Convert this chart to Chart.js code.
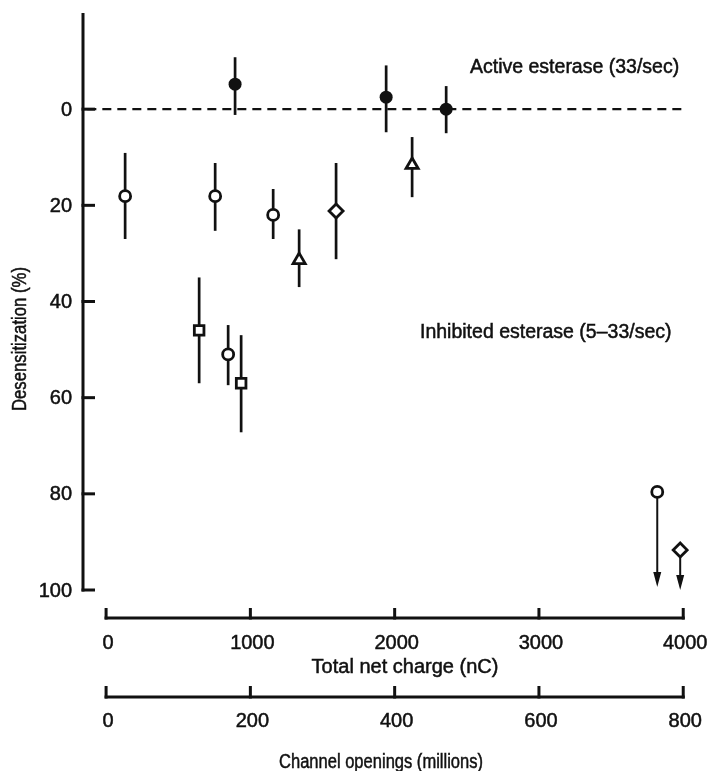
<!DOCTYPE html>
<html>
<head>
<meta charset="utf-8">
<script src="https://cdn.jsdelivr.net/npm/chart.js@4.4.1/dist/chart.umd.min.js"></script>
<style>
    html, body { margin: 0; padding: 0; background: #ffffff; }
    #wrap { width: 714px; height: 771px; position: relative; }
</style>
</head>
<body>
<div id="wrap"><canvas id="chart"></canvas></div>
<script>
// values: x in nC, y in % desensitization
const activeX = [894, 1941, 2357];
const activeY = [-5.2, -2.5, 0];
const activeLow = [-10.8, -9.1, -4.8];
const activeHigh = [1.2, 4.8, 5];

const circleX = [132, 756, 1158, 846, 3820];
const circleY = [18.1, 18.1, 22, 51, 79.6];
const circleLow = [9.1, 11.2, 16.6, 44.9, null];
const circleHigh = [27, 25.3, 27, 57.4, null];

const squareX = [645, 936];
const squareY = [46, 57];
const squareLow = [35, 47];
const squareHigh = [57, 67.2];

const triangleX = [1338, 2121];
const triangleY = [31.4, 11.6];
const triangleLow = [25, 5.8];
const triangleHigh = [37, 18.3];

const diamondX = [1594, 3979];
const diamondY = [21.2, 91.7];
const diamondLow = [11.2, null];
const diamondHigh = [31.2, null];

// points that only give a lower bound (arrow down)
const arrowX = [3820, 3979];
const arrowFrom = [79.6, 91.7];
const arrowTo = [99.4, 100];

const baselineX = [-130, 4010];
const baselineY = [0, 0];

const yTicks = [0, 20, 40, 60, 80, 100];
const chargeTicks = [0, 1000, 2000, 3000, 4000];
const channelTicks = [0, 200, 400, 600, 800];
const chargePerChannel = 4000 / 800;

const yTitle = 'Desensitization (%)';
const chargeTitle = 'Total net charge (nC)';
const channelTitle = 'Channel openings (millions)';
const activeLabel = 'Active esterase (33/sec)';
const inhibitedLabel = 'Inhibited esterase (5\u201333/sec)';

const FONT = '"Liberation Sans", Arial, Helvetica, sans-serif';
const INK = '#111111';

function toPoints(xs, ys, lows, highs) {
    return xs.map((x, i) => ({ x: x, y: ys[i], low: lows ? lows[i] : null, high: highs ? highs[i] : null }));
}

// printed figure text is a bit heavier than a plain canvas fill
function inkText(ctx, text, x, y) {
    ctx.fillText(text, x, y);
    ctx.strokeText(text, x, y);
}

// the original typeface is narrower than Arial: squeeze to the printed width
function narrowText(ctx, text, x, y, width) {
    const natural = ctx.measureText(text).width;
    const k = Math.min(1, width / natural);
    ctx.save();
    ctx.translate(x, y);
    ctx.scale(k, 1);
    inkText(ctx, text, 0, 0);
    ctx.restore();
}

const errorBarPlugin = {
    id: 'errorBars',
    beforeDatasetsDraw(chart) {
        const ctx = chart.ctx;
        const xScale = chart.scales.x;
        const yScale = chart.scales.y;
        ctx.save();
        ctx.strokeStyle = INK;
        ctx.fillStyle = INK;
        ctx.lineWidth = 2.7;
        chart.data.datasets.forEach(ds => {
            if (!ds.errorBars) return;
            ds.data.forEach(p => {
                if (p.low === null || p.high === null) return;
                const px = xScale.getPixelForValue(p.x);
                ctx.beginPath();
                ctx.moveTo(px, yScale.getPixelForValue(p.low));
                ctx.lineTo(px, yScale.getPixelForValue(p.high));
                ctx.stroke();
            });
        });

        arrowX.forEach((x, i) => {
            const px = xScale.getPixelForValue(x);
            const y0 = yScale.getPixelForValue(arrowFrom[i]);
            const y1 = yScale.getPixelForValue(arrowTo[i]);
            ctx.lineWidth = 2;
            ctx.beginPath();
            ctx.moveTo(px, y0);
            ctx.lineTo(px, y1 - 8);
            ctx.stroke();
            ctx.beginPath();
            ctx.moveTo(px, y1);
            ctx.lineTo(px - 4, y1 - 15);
            ctx.lineTo(px + 4, y1 - 15);
            ctx.closePath();
            ctx.fill();
        });
        ctx.restore();
    }
};

const axesPlugin = {
    id: 'paperAxes',
    afterDraw(chart) {
        const ctx = chart.ctx;
        const xScale = chart.scales.x;
        const yScale = chart.scales.y;
        const axisX = chart.chartArea.left;
        ctx.save();
        ctx.strokeStyle = INK;
        ctx.fillStyle = INK;
        ctx.lineWidth = 3;
        ctx.lineCap = 'butt';

        // y axis with inward ticks
        ctx.beginPath();
        ctx.moveTo(axisX, yScale.getPixelForValue(yScale.min));
        ctx.lineTo(axisX, yScale.getPixelForValue(yScale.max) + 1.5);
        ctx.stroke();
        yTicks.forEach(v => {
            const py = yScale.getPixelForValue(v);
            ctx.beginPath();
            ctx.moveTo(axisX - 1.5, py);
            ctx.lineTo(axisX + 12, py);
            ctx.stroke();
        });

        ctx.lineWidth = 0.5;
        ctx.font = '20px ' + FONT;
        ctx.textAlign = 'right';
        ctx.textBaseline = 'middle';
        yTicks.forEach(v => {
            inkText(ctx, String(v), axisX - 11, yScale.getPixelForValue(v) + 1);
        });

        ctx.save();
        ctx.translate(20, 339);
        ctx.rotate(-Math.PI / 2);
        ctx.textAlign = 'center';
        ctx.font = '20px ' + FONT;
        narrowText(ctx, yTitle, 0, 0, 144);
        ctx.restore();

        // the two detached x axes below the plot
        const drawScaleBar = (lineY, ticks, factor, labelY, tickLen) => {
            const left = xScale.getPixelForValue(ticks[0] * factor);
            const right = xScale.getPixelForValue(ticks[ticks.length - 1] * factor);
            ctx.lineWidth = 3;
            ctx.beginPath();
            ctx.moveTo(left - 1.5, lineY);
            ctx.lineTo(right + 1.5, lineY);
            ctx.stroke();
            ticks.forEach(t => {
                const px = xScale.getPixelForValue(t * factor);
                ctx.beginPath();
                ctx.moveTo(px, lineY + 1.5);
                ctx.lineTo(px, lineY - tickLen);
                ctx.stroke();
            });
            ctx.lineWidth = 0.5;
            ctx.font = '20px ' + FONT;
            ctx.textAlign = 'center';
            ctx.textBaseline = 'middle';
            ticks.forEach(t => {
                inkText(ctx, String(t), xScale.getPixelForValue(t * factor) + 2, labelY);
            });
        };
        drawScaleBar(618, chargeTicks, 1, 643, 10);
        drawScaleBar(697, channelTicks, chargePerChannel, 721, 11);

        ctx.lineWidth = 0.5;
        ctx.textAlign = 'center';
        ctx.textBaseline = 'middle';
        ctx.font = '20px ' + FONT;
        inkText(ctx, chargeTitle, 405, 667);
        narrowText(ctx, channelTitle, 381, 762, 204);

        // annotations
        ctx.textAlign = 'left';
        ctx.font = '19.5px ' + FONT;
        inkText(ctx, activeLabel, 470, 68);
        inkText(ctx, inhibitedLabel, 420, 333);
        ctx.restore();
    }
};

const markerBase = {
    type: 'scatter',
    showLine: false,
    borderColor: INK,
    pointBorderColor: INK,
    pointBorderWidth: 2.8,
    pointHoverRadius: 0,
    errorBars: true,
};

const ctx = document.getElementById('chart').getContext('2d');
new Chart(ctx, {
    type: 'scatter',
    data: {
        datasets: [
            {
                type: 'line',
                label: 'baseline',
                data: baselineX.map((x, i) => ({ x: x, y: baselineY[i] })),
                borderColor: INK,
                borderWidth: 2.2,
                borderDash: [9, 6],
                pointRadius: 0,
                fill: false,
            },
            Object.assign({}, markerBase, {
                label: 'Active esterase',
                data: toPoints(activeX, activeY, activeLow, activeHigh),
                pointStyle: 'circle',
                pointRadius: 6.5,
                pointBorderWidth: 0,
                pointBackgroundColor: INK,
            }),
            Object.assign({}, markerBase, {
                label: 'Inhibited, circles',
                data: toPoints(circleX, circleY, circleLow, circleHigh),
                pointStyle: 'circle',
                pointRadius: 5.5,
                pointBackgroundColor: '#ffffff',
            }),
            Object.assign({}, markerBase, {
                label: 'Inhibited, squares',
                data: toPoints(squareX, squareY, squareLow, squareHigh),
                pointStyle: 'rect',
                pointRadius: 6.8,
                pointBackgroundColor: '#ffffff',
            }),
            Object.assign({}, markerBase, {
                label: 'Inhibited, triangles',
                data: toPoints(triangleX, triangleY, triangleLow, triangleHigh),
                pointStyle: 'triangle',
                pointRadius: 7,
                pointBackgroundColor: '#ffffff',
            }),
            Object.assign({}, markerBase, {
                label: 'Inhibited, diamonds',
                data: toPoints(diamondX, diamondY, diamondLow, diamondHigh),
                pointStyle: 'rectRot',
                pointRadius: 7,
                pointBackgroundColor: '#ffffff',
            }),
        ]
    },
    options: {
        responsive: true,
        maintainAspectRatio: false,
        animation: false,
        events: [],
        layout: {
            padding: { left: 83, top: 13, right: 25, bottom: 181 }
        },
        plugins: {
            legend: { display: false },
            tooltip: { enabled: false },
        },
        scales: {
            x: { type: 'linear', min: -160, max: 4040, display: false },
            y: { type: 'linear', min: -20, max: 100, reverse: true, display: false },
        }
    },
    plugins: [errorBarPlugin, axesPlugin]
});
</script>
</body>
</html>
